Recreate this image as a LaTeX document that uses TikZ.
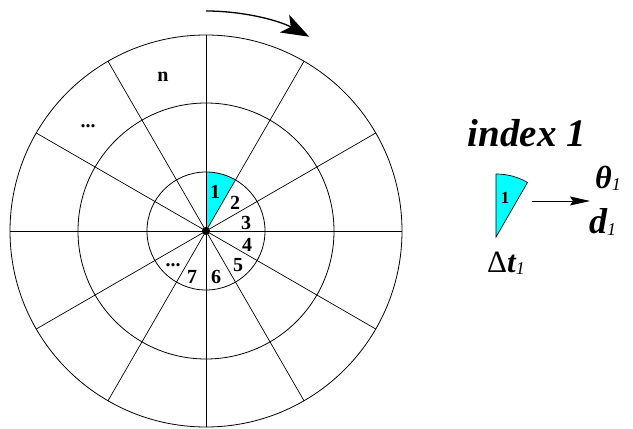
\documentclass[tikz,border=0pt]{standalone}
\usepackage{fontspec}
\setmainfont{Liberation Serif}
\usetikzlibrary{arrows.meta}
\definecolor{secfill}{RGB}{0,255,255}
\tikzset{
  ring/.style   = {draw, line width=0.8pt},
  spoke/.style  = {draw, line width=0.7pt},
  sector/.style = {draw, line width=0.7pt, fill=secfill},
  lbl/.style    = {font=\fontsize{20}{20}\selectfont\bfseries, inner sep=0pt},
  big/.style    = {font=\fontsize{39}{39}\selectfont\bfseries\itshape, inner sep=0pt},
}
\newcommand{\subone}{\raisebox{-2pt}{\fontsize{18}{18}\selectfont\mdseries\itshape 1}}

\begin{document}
\begin{tikzpicture}[x=1pt, y=1pt]
\useasboundingbox (0,0) rectangle (633,429);

% wheel
\begin{scope}[shift={(206,198)}]
\coordinate (o) at (0,0);
\fill[secfill] (o) -- (90:59) arc[start angle=90, end angle=60, radius=59] -- cycle;

\draw[spoke] (0:196) -- (180:196);
\draw[spoke] (30:196) -- (210:196);
\draw[spoke] (60:196) -- (240:196);
\draw[spoke] (90:196) -- (270:196);
\draw[spoke] (120:196) -- (300:196);
\draw[spoke] (150:196) -- (330:196);

\draw[ring] (o) circle[radius=59];
\draw[ring] (o) circle[radius=128];
\draw[ring] (o) circle[radius=196];
\fill (o) circle[radius=4];

\node[lbl] (s1) at (9,39) {1};
\node[lbl] (s2) at (29,28) {2};
\node[lbl] (s3) at (40,8) {3};
\node[lbl] (s4) at (41,-14) {4};
\node[lbl] (s5) at (32,-34) {5};
\node[lbl] (s6) at (10,-46) {6};
\node[lbl] (s7) at (-14,-46) {7};
\node[lbl] (sdots) at (-33,-34) {...};
\node[lbl] (sn) at (-43,154) {n};
\node[lbl] (odots) at (-118,105) {...};

% rotation
\coordinate (rs) at (90:220);
\draw[line width=1.3pt, -{Stealth[length=28pt, width=20pt, inset=7pt]}]
  (rs) arc[start angle=90, end angle=62, radius=220];
\end{scope}

% one index
\node[big] (idx) at (527,296) {index 1};
\coordinate (v) at (496,192);
\draw[sector] (v) -- ++(90:63) arc[start angle=90, end angle=60, radius=63] -- cycle;
\node[lbl, font=\fontsize{17}{17}\selectfont\bfseries] (c1) at (505,231) {1};
\node[big, font=\fontsize{31}{31}\selectfont\bfseries\itshape] (dt) at (506,166)
  {{\mdseries\upshape Δ}t\subone};
\node[big, font=\fontsize{32}{32}\selectfont\bfseries\itshape, anchor=west] (th) at (595,251) {θ\subone};
\node[big, font=\fontsize{36}{36}\selectfont\bfseries\itshape, anchor=west] (dd) at (589,207) {d\subone};
\coordinate (as) at (532,228);
\coordinate (ae) at (590,228);
\draw[line width=0.8pt, -{Stealth[length=20pt, width=9pt, inset=3pt]}] (as) -- (ae);

\end{tikzpicture}
\end{document}
